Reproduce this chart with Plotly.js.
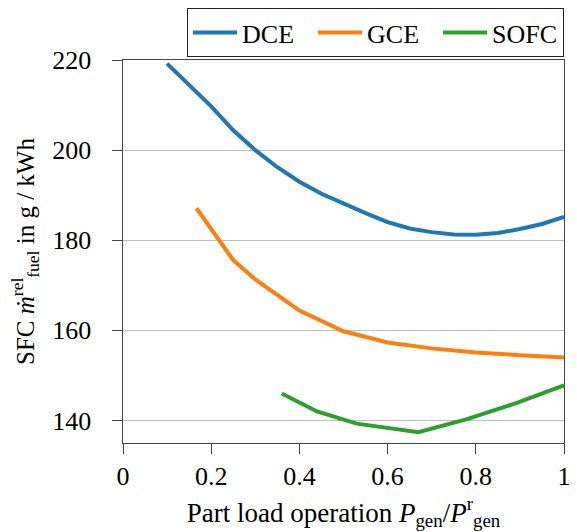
<!DOCTYPE html>
<html>
<head>
<meta charset="utf-8">
<script src="https://cdn.plot.ly/plotly-3.0.1.min.js"></script>
<style>html,body{margin:0;padding:0;background:#fff;}#chart{width:577px;height:532px;}</style>
</head>
<body>
<div id="chart"></div>
<script>
const seriesNames = ["DCE", "GCE", "SOFC"];
const seriesColors = ["#1f77b4", "#ff7f0e", "#2ca02c"];

const dceX = [0.10, 0.15, 0.20, 0.25, 0.30, 0.35, 0.40, 0.45, 0.50, 0.55, 0.60, 0.65, 0.70, 0.75, 0.80, 0.85, 0.90, 0.95, 1.00];
const dceY = [219.2, 214.3, 209.7, 204.4, 200.0, 196.2, 193.0, 190.3, 188.1, 186.0, 184.0, 182.6, 181.8, 181.3, 181.2, 181.6, 182.5, 183.6, 185.2];

const gceX = [0.1667, 0.25, 0.30, 0.40, 0.50, 0.60, 0.70, 0.80, 0.90, 1.00];
const gceY = [187.1, 175.6, 171.3, 164.4, 159.8, 157.3, 156.0, 155.1, 154.5, 154.0];

const sofcX = [0.36, 0.44, 0.53, 0.67, 0.78, 0.89, 1.00];
const sofcY = [146.0, 142.0, 139.3, 137.4, 140.3, 143.8, 147.8];

const xTicks = [0, 0.2, 0.4, 0.6, 0.8, 1];
const yTicks = [140, 160, 180, 200, 220];

const xs = [dceX, gceX, sofcX];
const ys = [dceY, gceY, sofcY];

const FONT = "Liberation Serif";

const traces = seriesNames.map((n, i) => ({
  x: xs[i], y: ys[i], name: n, type: "scatter", mode: "lines",
  line: {color: seriesColors[i], width: 4}
}));

const layout = {
  width: 577, height: 532,
  margin: {l: 123, r: 12.5, t: 60, b: 88.7, pad: 0},
  paper_bgcolor: "#fff", plot_bgcolor: "#fff",
  font: {family: FONT, size: 26, color: "#000"},
  showlegend: true,
  legend: {
    orientation: "h", xref: "container", yref: "container",
    x: 0.9775, xanchor: "right", y: 0.985, yanchor: "top",
    bordercolor: "#222", borderwidth: 1, bgcolor: "#fff",
    itemwidth: 44, entrywidth: 66, entrywidthmode: "pixels",
    font: {family: FONT, size: 26, color: "#000"}
  },
  xaxis: {
    range: [0, 1], tickvals: xTicks, ticktext: xTicks.map(String),
    showgrid: false, zeroline: false,
    showline: true, linecolor: "#444", linewidth: 1, mirror: true,
    ticks: "outside", ticklen: 10, tickcolor: "#444",
    tickfont: {family: FONT, size: 26, color: "#000"},
    title: {text: "Part load operation <i>P</i><sub>gen</sub>/<i>P</i><sup>r</sup><sub>gen</sub>", font: {family: FONT, size: 27, color: "#000"}, standoff: 12}
  },
  yaxis: {
    range: [135, 220], tickvals: yTicks, ticktext: yTicks.map(v => v + "\u2009\u2009\u2009"),
    showgrid: true, gridcolor: "#bdbdbd", gridwidth: 1, zeroline: false,
    showline: true, linecolor: "#444", linewidth: 1, mirror: true,
    ticks: "outside", ticklen: 10, tickcolor: "#444",
    tickfont: {family: FONT, size: 26, color: "#000"},
    title: {text: "SFC <i>ṁ</i><sup>rel</sup><sub>fuel</sub> in g / kWh", font: {family: FONT, size: 25, color: "#000"}, standoff: 10}
  }
};

Plotly.newPlot("chart", traces, layout, {displayModeBar: false, staticPlot: true});
</script>
</body>
</html>
